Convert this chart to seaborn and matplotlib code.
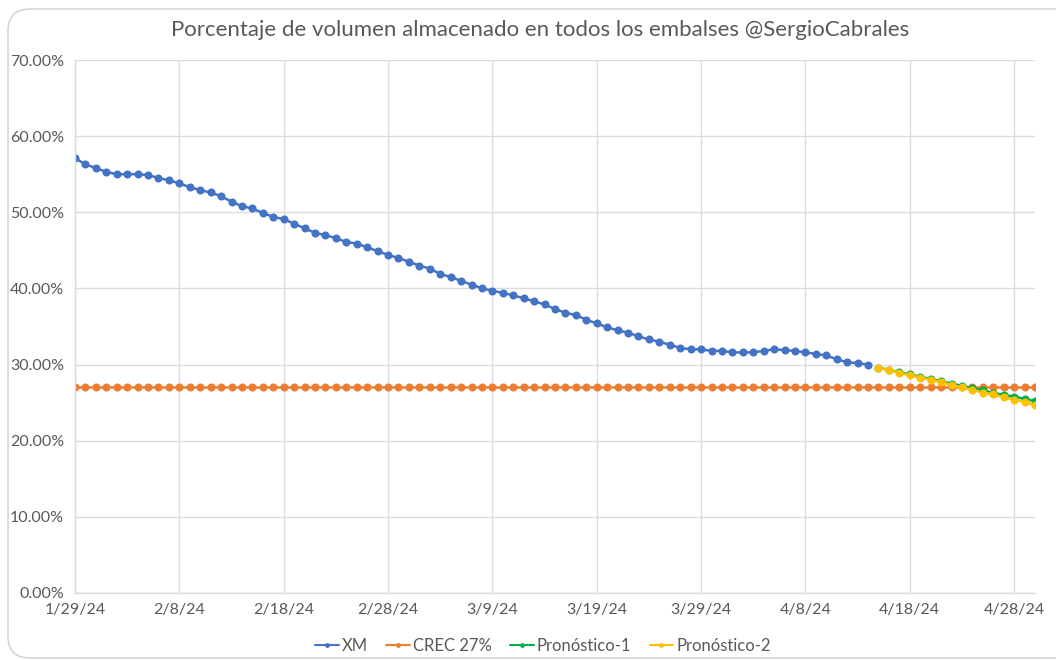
import datetime as dt
import pandas as pd
import matplotlib
matplotlib.use("Agg")
import matplotlib.pyplot as plt
import matplotlib.dates as mdates
import matplotlib.ticker as ticker
from matplotlib.patches import FancyBboxPatch
import seaborn as sns

# datos (porcentaje)
start = dt.date(2024, 1, 29)
xm = [57.1, 56.3, 55.8, 55.3, 55.0, 55.0, 55.0, 54.9, 54.5, 54.2,
      53.8, 53.3, 52.9, 52.6, 52.1, 51.4, 50.8, 50.5, 49.9, 49.4,
      49.1, 48.5, 47.9, 47.3, 47.0, 46.6, 46.1, 45.9, 45.4, 44.9,
      44.4, 44.0, 43.5, 43.0, 42.6, 41.9, 41.5, 41.0, 40.5, 40.0,
      39.7, 39.4, 39.1, 38.7, 38.3, 37.9, 37.3, 36.8, 36.5, 35.9,
      35.4, 34.9, 34.5, 34.2, 33.7, 33.3, 33.0, 32.6, 32.2, 32.0,
      32.0, 31.8, 31.8, 31.6, 31.6, 31.6, 31.8, 32.0, 31.9, 31.8,
      31.6, 31.4, 31.2, 30.7, 30.3, 30.2, 30.0]
crec_value = 27.0
n_days = 93
pron1 = [29.6, 29.3, 29.0, 28.7, 28.4, 28.1, 27.8, 27.5,
         27.2, 26.9, 26.6, 26.3, 26.0, 25.8, 25.5, 25.2]
pron2 = [29.6, 29.3, 28.9, 28.6, 28.3, 28.0, 27.7, 27.3,
         27.0, 26.7, 26.3, 26.1, 25.7, 25.4, 25.1, 24.7]
pron_start = 77

series_names = ["XM", "CREC 27%", "Pronóstico-1", "Pronóstico-2"]
colors = ["#4472C4", "#ED7D31", "#00B050", "#FFC000"]


def dates_from(offset, n):
    return [pd.Timestamp(start + dt.timedelta(days=offset + i)) for i in range(n)]


frames = [
    pd.DataFrame({"Fecha": dates_from(0, len(xm)), "Valor": xm, "Serie": "XM"}),
    pd.DataFrame({"Fecha": dates_from(0, n_days), "Valor": [crec_value] * n_days,
                  "Serie": "CREC 27%"}),
    pd.DataFrame({"Fecha": dates_from(pron_start, len(pron1)), "Valor": pron1,
                  "Serie": "Pronóstico-1"}),
    pd.DataFrame({"Fecha": dates_from(pron_start, len(pron2)), "Valor": pron2,
                  "Serie": "Pronóstico-2"}),
]
df = pd.concat(frames, ignore_index=True)

sns.set_theme(style="white")
plt.rcParams["font.family"] = ["Lato", "DejaVu Sans"]
text_color = "#595959"
grid_color = "#DCDCDC"

fig = plt.figure(figsize=(10.56, 6.6), dpi=100)
ax = fig.add_axes([75 / 1056, 67 / 660, 960 / 1056, 533 / 660])

# marco redondeado tipo Excel (en pulgadas)
fig.patches.append(FancyBboxPatch(
    (0.08, 0.02), 11.0, 6.49,
    boxstyle="round,pad=0,rounding_size=0.22", transform=fig.dpi_scale_trans,
    facecolor="none", edgecolor="#D6D6D6", linewidth=1.2, zorder=0))

sns.lineplot(
    data=df, x="Fecha", y="Valor", hue="Serie", hue_order=series_names,
    palette=colors, marker="o", markersize=5.8, markeredgewidth=0,
    linewidth=1.8, ax=ax, legend=True,
)

ax.set_xlim(pd.Timestamp(start), pd.Timestamp(start + dt.timedelta(days=92)))
ax.set_ylim(0, 70)
ax.yaxis.set_major_locator(ticker.MultipleLocator(10))
ax.yaxis.set_major_formatter(ticker.FuncFormatter(lambda v, p: f"{v:.2f}%"))
tick_dates = [pd.Timestamp(start + dt.timedelta(days=10 * i)) for i in range(10)]
ax.set_xticks(tick_dates)
ax.xaxis.set_major_formatter(ticker.FuncFormatter(
    lambda v, p: "{d.month}/{d.day}/{y}".format(d=mdates.num2date(v),
                                                 y=mdates.num2date(v).strftime("%y"))))

ax.grid(True, color=grid_color, linewidth=1.0)
ax.set_axisbelow(True)
for side in ["top", "right"]:
    ax.spines[side].set_visible(False)
for side in ["left", "bottom"]:
    ax.spines[side].set_color(grid_color)
    ax.spines[side].set_linewidth(1.0)
ax.tick_params(axis="both", length=0, labelsize=11.5, colors=text_color)
ax.tick_params(axis="x", pad=7)
ax.tick_params(axis="y", pad=8)
ax.set_xlabel("")
ax.set_ylabel("")

fig.text(540 / 1056, 1 - 30 / 660,
         "Porcentaje de volumen almacenado en todos los embalses @SergioCabrales",
         ha="center", va="center", fontsize=16, color=text_color)

handles, labels = ax.get_legend_handles_labels()
for h in handles:
    h.set_linewidth(1.5)
ax.legend(handles, labels, loc="center", bbox_to_anchor=(543 / 1056, 14 / 660),
          bbox_transform=fig.transFigure, ncol=4, frameon=False, fontsize=12,
          labelcolor=text_color, handlelength=1.4, handletextpad=0.2,
          columnspacing=1.1, markerscale=0.6)

fig.savefig("out.png", dpi=100)
